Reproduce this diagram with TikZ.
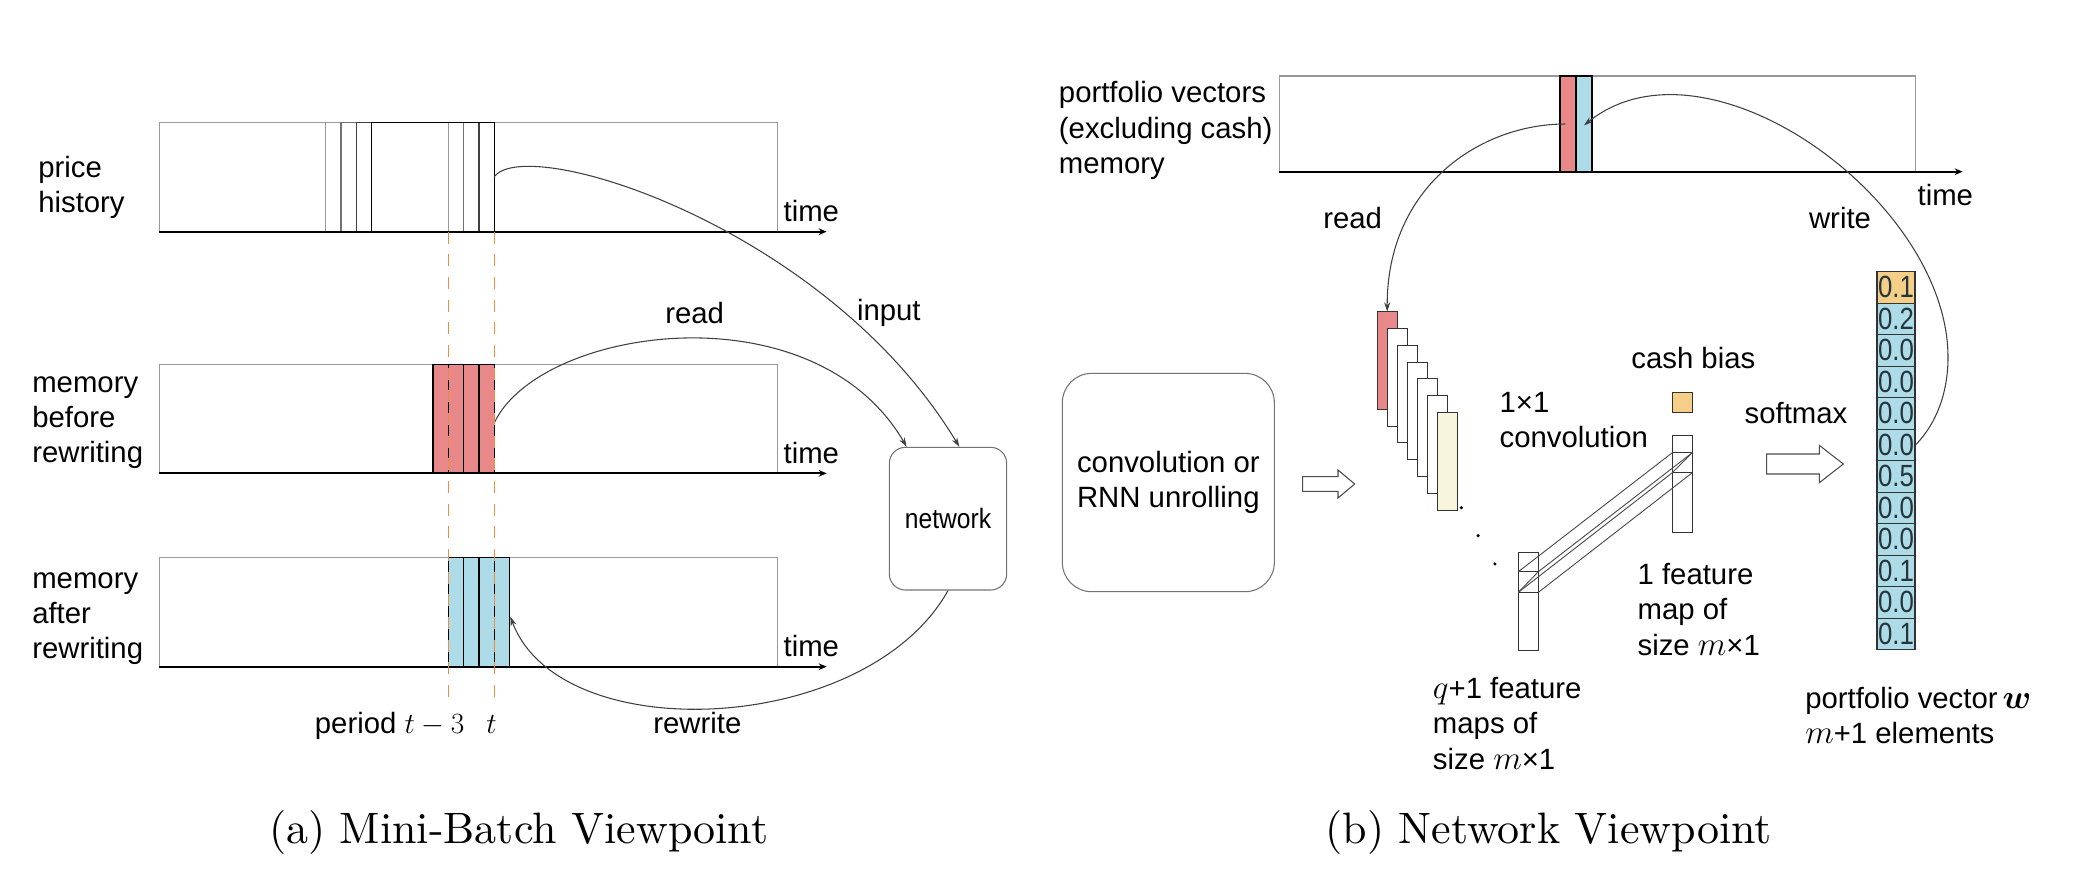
\RequirePackage{fix-cm}
\documentclass[tikz,border=0pt]{standalone}
\usepackage{bm}
\usepackage{fontspec}
\newfontfamily\arialfont{Liberation Sans}
\newfontfamily\capfont[Extension=.otf]{lmroman10-regular}
\usetikzlibrary{arrows.meta}

\definecolor{readred}{RGB}{232,136,136}
\definecolor{writeblue}{RGB}{173,220,232}
\definecolor{cashorange}{RGB}{245,206,135}
\definecolor{mapcream}{RGB}{247,246,220}
\definecolor{periodorange}{RGB}{240,140,60}
\definecolor{cellink}{RGB}{38,52,60}

\newcommand\bigvar[1]{{\fontsize{25}{26}\selectfont$#1$}}

\tikzset{
	lab/.style={font=\arialfont\fontsize{22}{26.5}\selectfont, inner sep=0pt},
	subcap/.style={font=\capfont\fontsize{33}{40}\selectfont, inner sep=0pt, anchor=base},
	membox/.style={draw=black!40, line width=0.8pt},
	timeaxis/.style={line width=1.5pt, -{Stealth[length=6pt,width=5pt]}},
	link/.style={draw=black!75, line width=0.8pt, -{Stealth[length=7pt,width=4.5pt]}},
	slot/.style={draw=black, line width=0.8pt},
	fmap/.style={draw=black!80, line width=0.7pt, fill=white, minimum width=15.2pt, minimum height=73.3pt, inner sep=0pt, outer sep=0pt},
	wcell/.style={draw=black!80, line width=0.8pt, minimum width=28.5pt, minimum height=23.625pt, inner sep=0pt, fill=writeblue, text=cellink, font=\arialfont\fontsize{23}{23}\selectfont},
	rbox/.style={draw=black!55, line width=0.8pt, rounded corners=12pt},
	hollow/.style={draw=black!70, line width=0.8pt, fill=white},
	perioddash/.style={draw=periodorange, line width=0.8pt, dash pattern=on 9pt off 8pt},
}

\begin{document}
\begin{tikzpicture}[x=1pt,y=-1pt]
	\useasboundingbox (0,0) rectangle (1566,670.5);

	\node[lab, anchor=west, align=left] (phlab) at (28.5,140.7) {price\\history};
	\node[lab, anchor=west, align=left] (mblab) at (24,317.1) {memory\\before\\rewriting};
	\node[lab, anchor=west, align=left] (malab) at (24,464.1) {memory\\after\\rewriting};

	\draw[membox] (119.5,173.75) |- (583,92) -- (583,173.75);
	\draw[membox] (119.5,355) |- (583,273.25) -- (583,355);
	\draw[membox] (119.5,500) |- (583,418.25) -- (583,500);

	\draw[black!40, line width=0.9pt] (244.25,92) rectangle ++(92,81.75);
	\draw[black!55, line width=0.9pt] (255.75,92) rectangle ++(92,81.75);
	\draw[black!75, line width=0.9pt] (267.25,92) rectangle ++(92,81.75);
	\draw[black, line width=1.2pt] (278.75,92) rectangle ++(92,81.75);

	\foreach \i in {0,...,3} {
		\draw[slot, fill=readred] (324.75+11.5*\i,273.25) rectangle ++(11.5,81.75);
		\draw[slot, fill=writeblue] (336.25+11.5*\i,418.25) rectangle ++(11.5,81.75);
	}

	\draw[timeaxis] (119.5,173.75) -- (620,173.75);
	\draw[timeaxis] (119.5,355) -- (620,355);
	\draw[timeaxis] (119.5,500) -- (620,500);
	\node[lab, anchor=base west] (time1) at (587.5,166.25) {time};
	\node[lab, anchor=base west] (time2) at (587.5,347.5) {time};
	\node[lab, anchor=base west] (time3) at (587.5,492.5) {time};

	\node[rbox, lab, minimum width=88pt, minimum height=107pt] (net) at (711,389) {\fontsize{21}{21}\selectfont\scalebox{0.88}[1]{network}};

	\coordinate (stackout) at (370.75,132.5);
	\coordinate (redout) at (370.75,317);
	\coordinate (bluein) at (382.75,462.5);
	\draw[link] (stackout) .. controls (395,100) and (620,170) .. ([xshift=8.5pt]net.north);
	\draw[link] (redout) .. controls (405,245) and (610,215) .. ([xshift=-31pt]net.north);
	\draw[link] (net.south) .. controls (650,552) and (420,562) .. (bluein);

	\node[lab, anchor=base] (inplab) at (666.6,240) {input};
	\node[lab, anchor=base] (readlab) at (521,242.5) {read};
	\node[lab, anchor=base] (rewlab) at (523,550) {rewrite};
	\node[lab, anchor=base west] (perlab) at (236,550) {period $t-3$\hspace{0.75em}$t$};

	\draw[perioddash] (336.25,173.75) -- (336.25,530);
	\draw[perioddash] (370.75,173.75) -- (370.75,530);

	\node[subcap] (capa) at (389,632.5) {(a) Mini-Batch Viewpoint};

	\node[lab, anchor=west, align=left] (pvlab) at (794,98) {portfolio vectors\\(excluding cash)\\memory};
	\draw[membox] (959.5,128.75) |- (1436.75,57) -- (1436.75,128.75);
	\draw[slot, fill=readred] (1170,57) rectangle (1182,128.75);
	\draw[slot, fill=writeblue] (1182,57) rectangle (1194,128.75);
	\draw[timeaxis] (959.5,128.75) -- (1472,128.75);
	\node[lab, anchor=base west] (time4) at (1438,153.75) {time};

	\node[rbox, lab, rounded corners=22pt, minimum width=159pt, minimum height=163.75pt, align=center] (conv) at (876.25,361.9) {convolution or\\RNN unrolling};

	\draw[hollow] (977,357.5) -- (1003.5,357.5) -- (1003.5,352.5) -- (1016,363) -- (1003.5,373.5) -- (1003.5,368.5) -- (977,368.5) -- cycle;
	\draw[hollow] (1325,340.5) -- (1364.5,340.5) -- (1364.5,334) -- (1382.5,348) -- (1364.5,362) -- (1364.5,355.5) -- (1325,355.5) -- cycle;

	\foreach \k/\c in {0/readred,1/white,2/white,3/white,4/white,5/white,6/mapcream}
		\node[fmap, fill=\c] (f\k) at (1040.4+7.53*\k,270.4+12.58*\k) {};
	\foreach \d in {0,1,2}
		\fill (1096+12.6*\d,380.75+21.1*\d) circle (1.3pt);

	\node[fmap, minimum width=15pt] (lmap) at (1146.25,451.1) {};
	\node[fmap, minimum width=15pt, minimum height=15.5pt, line width=1.2pt] (lcell) at (1146.25,436.5) {};
	\node[fmap, minimum width=15pt] (rmap) at (1261.75,362.9) {};
	\node[fmap, minimum width=15pt, minimum height=15pt, line width=1.2pt] (rcell) at (1261.75,347) {};
	\draw[black!70, line width=0.7pt] (lcell.north west) -- (rcell.north west);
	\draw[black!70, line width=0.7pt] (lcell.north east) -- (rcell.north east);
	\draw[black!70, line width=0.7pt] (lcell.south west) -- (rcell.south west);
	\draw[black!70, line width=0.7pt] (lcell.south east) -- (rcell.south east);
	\draw[black!70, line width=0.7pt] (lcell.south west) -- (lcell.north east);
	\draw[black!70, line width=0.7pt] (rcell.south west) -- (rcell.north east);

	\node[fmap, fill=cashorange, minimum width=15.5pt, minimum height=15.5pt] (cash) at (1261.75,301.75) {};

	\node[lab, anchor=base] (cashlab) at (1270,276.25) {cash bias};
	\node[lab, anchor=west, align=left] (convlab) at (1124.5,315) {1×1\\convolution};
	\node[lab, anchor=west, align=left] (onelab) at (1228,457) {1 feature\\map of\\size \bigvar{m}×1};
	\node[lab, anchor=west, align=left] (qlab) at (1074.5,542.4) {\bigvar{q}+1 feature\\maps of\\size \bigvar{m}×1};
	\node[lab, anchor=base] (smlab) at (1347,317.5) {softmax};
	\node[lab, anchor=west, align=left] (pwlab) at (1353.75,536.6) {portfolio vector\,\bigvar{\bm{w}}\\\bigvar{m}+1 elements};

	\node[wcell, fill=cashorange] (w1) at (1422,215.56) {\scalebox{0.84}[1]{0.1}};
	\foreach \v [count=\i from 2] in {0.2,0.0,0.0,0.0,0.0,0.5,0.0,0.0,0.1,0.0,0.1}
		\node[wcell] (w\i) at (1422,215.56+23.625*\i-23.625) {\scalebox{0.84}[1]{\v}};

	\coordinate (rdfrom) at (1174,93);
	\coordinate (wrto) at (1188,94);
	\draw[link] (rdfrom) .. controls (1110,93) and (1040,140) .. (f0.north);
	\draw[link] (w6.east) .. controls (1452,318) and (1461,295) .. (1461,268) .. controls (1461,150) and (1280,20) .. (wrto);
	\node[lab, anchor=base] (readlab2) at (1014.5,171.25) {read};
	\node[lab, anchor=base] (writelab) at (1380,171.25) {write};

	\node[subcap] (capb) at (1161.5,632.5) {(b) Network Viewpoint};
\end{tikzpicture}
\end{document}
